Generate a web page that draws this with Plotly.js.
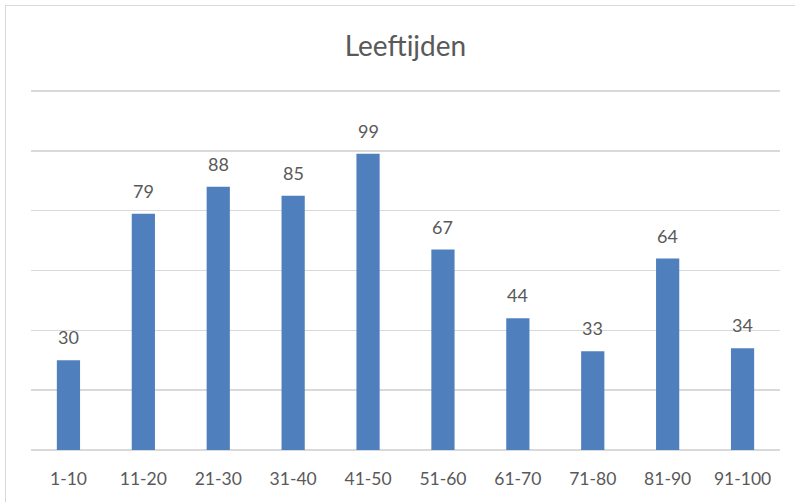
<!DOCTYPE html>
<html>
<head>
<meta charset="utf-8">
<script src="https://cdn.plot.ly/plotly-3.0.1.min.js"></script>
<style>
  html, body { margin: 0; padding: 0; background: #ffffff; }
  #wrap { position: relative; width: 795px; height: 502px; overflow: hidden; }
  #chart { position: absolute; left: 0; top: 0; width: 795px; height: 502px; }
  #frame { position: absolute; left: 5px; top: 5px; width: 800px; height: 510px;
           border-left: 1.5px solid #d9d9d9; border-top: 1.5px solid #d9d9d9;
           pointer-events: none; box-sizing: border-box; }
</style>
</head>
<body>
<div id="wrap">
  <div id="chart"></div>
  <div id="frame"></div>
</div>
<script>
const categories = ["1-10", "11-20", "21-30", "31-40", "41-50", "51-60", "61-70", "71-80", "81-90", "91-100"];
const values = [30, 79, 88, 85, 99, 67, 44, 33, 64, 34];
const chartTitle = "Leeftijden";

const fontFamily = "Lato, 'Open Sans', sans-serif";
const textColor = "#595959";

const trace = {
  type: "bar",
  x: categories,
  y: values,
  marker: { color: "#4f80bd" },
  hoverinfo: "x+y"
};

const annotations = categories.map((c, i) => ({
  x: c,
  y: values[i],
  xref: "x",
  yref: "y",
  text: String(values[i]),
  showarrow: false,
  yanchor: "bottom",
  yshift: 10,
  font: { family: fontFamily, size: 18, color: textColor }
}));

const layout = {
  width: 795,
  height: 502,
  margin: { l: 31, r: 15, t: 88, b: 52 },
  paper_bgcolor: "#ffffff",
  plot_bgcolor: "#ffffff",
  showlegend: false,
  bargap: 0.69,
  title: {
    text: chartTitle,
    font: { family: fontFamily, size: 28, color: textColor },
    x: 0.51,
    xanchor: "center",
    yref: "container",
    y: 1 - 46 / 502,
    yanchor: "middle"
  },
  xaxis: {
    type: "category",
    showgrid: false,
    showline: false,
    zeroline: false,
    ticks: "",
    ticklabelstandoff: 16,
    tickfont: { family: fontFamily, size: 17.5, color: textColor }
  },
  yaxis: {
    range: [0, 121],
    tick0: 0,
    dtick: 20,
    showticklabels: false,
    showgrid: true,
    gridcolor: "#d9d9d9",
    gridwidth: 1.5,
    zeroline: true,
    zerolinecolor: "#d9d9d9",
    zerolinewidth: 1.5,
    showline: false,
    ticks: ""
  },
  annotations: annotations
};

Plotly.newPlot("chart", [trace], layout, { displayModeBar: false, staticPlot: true });
</script>
</body>
</html>
